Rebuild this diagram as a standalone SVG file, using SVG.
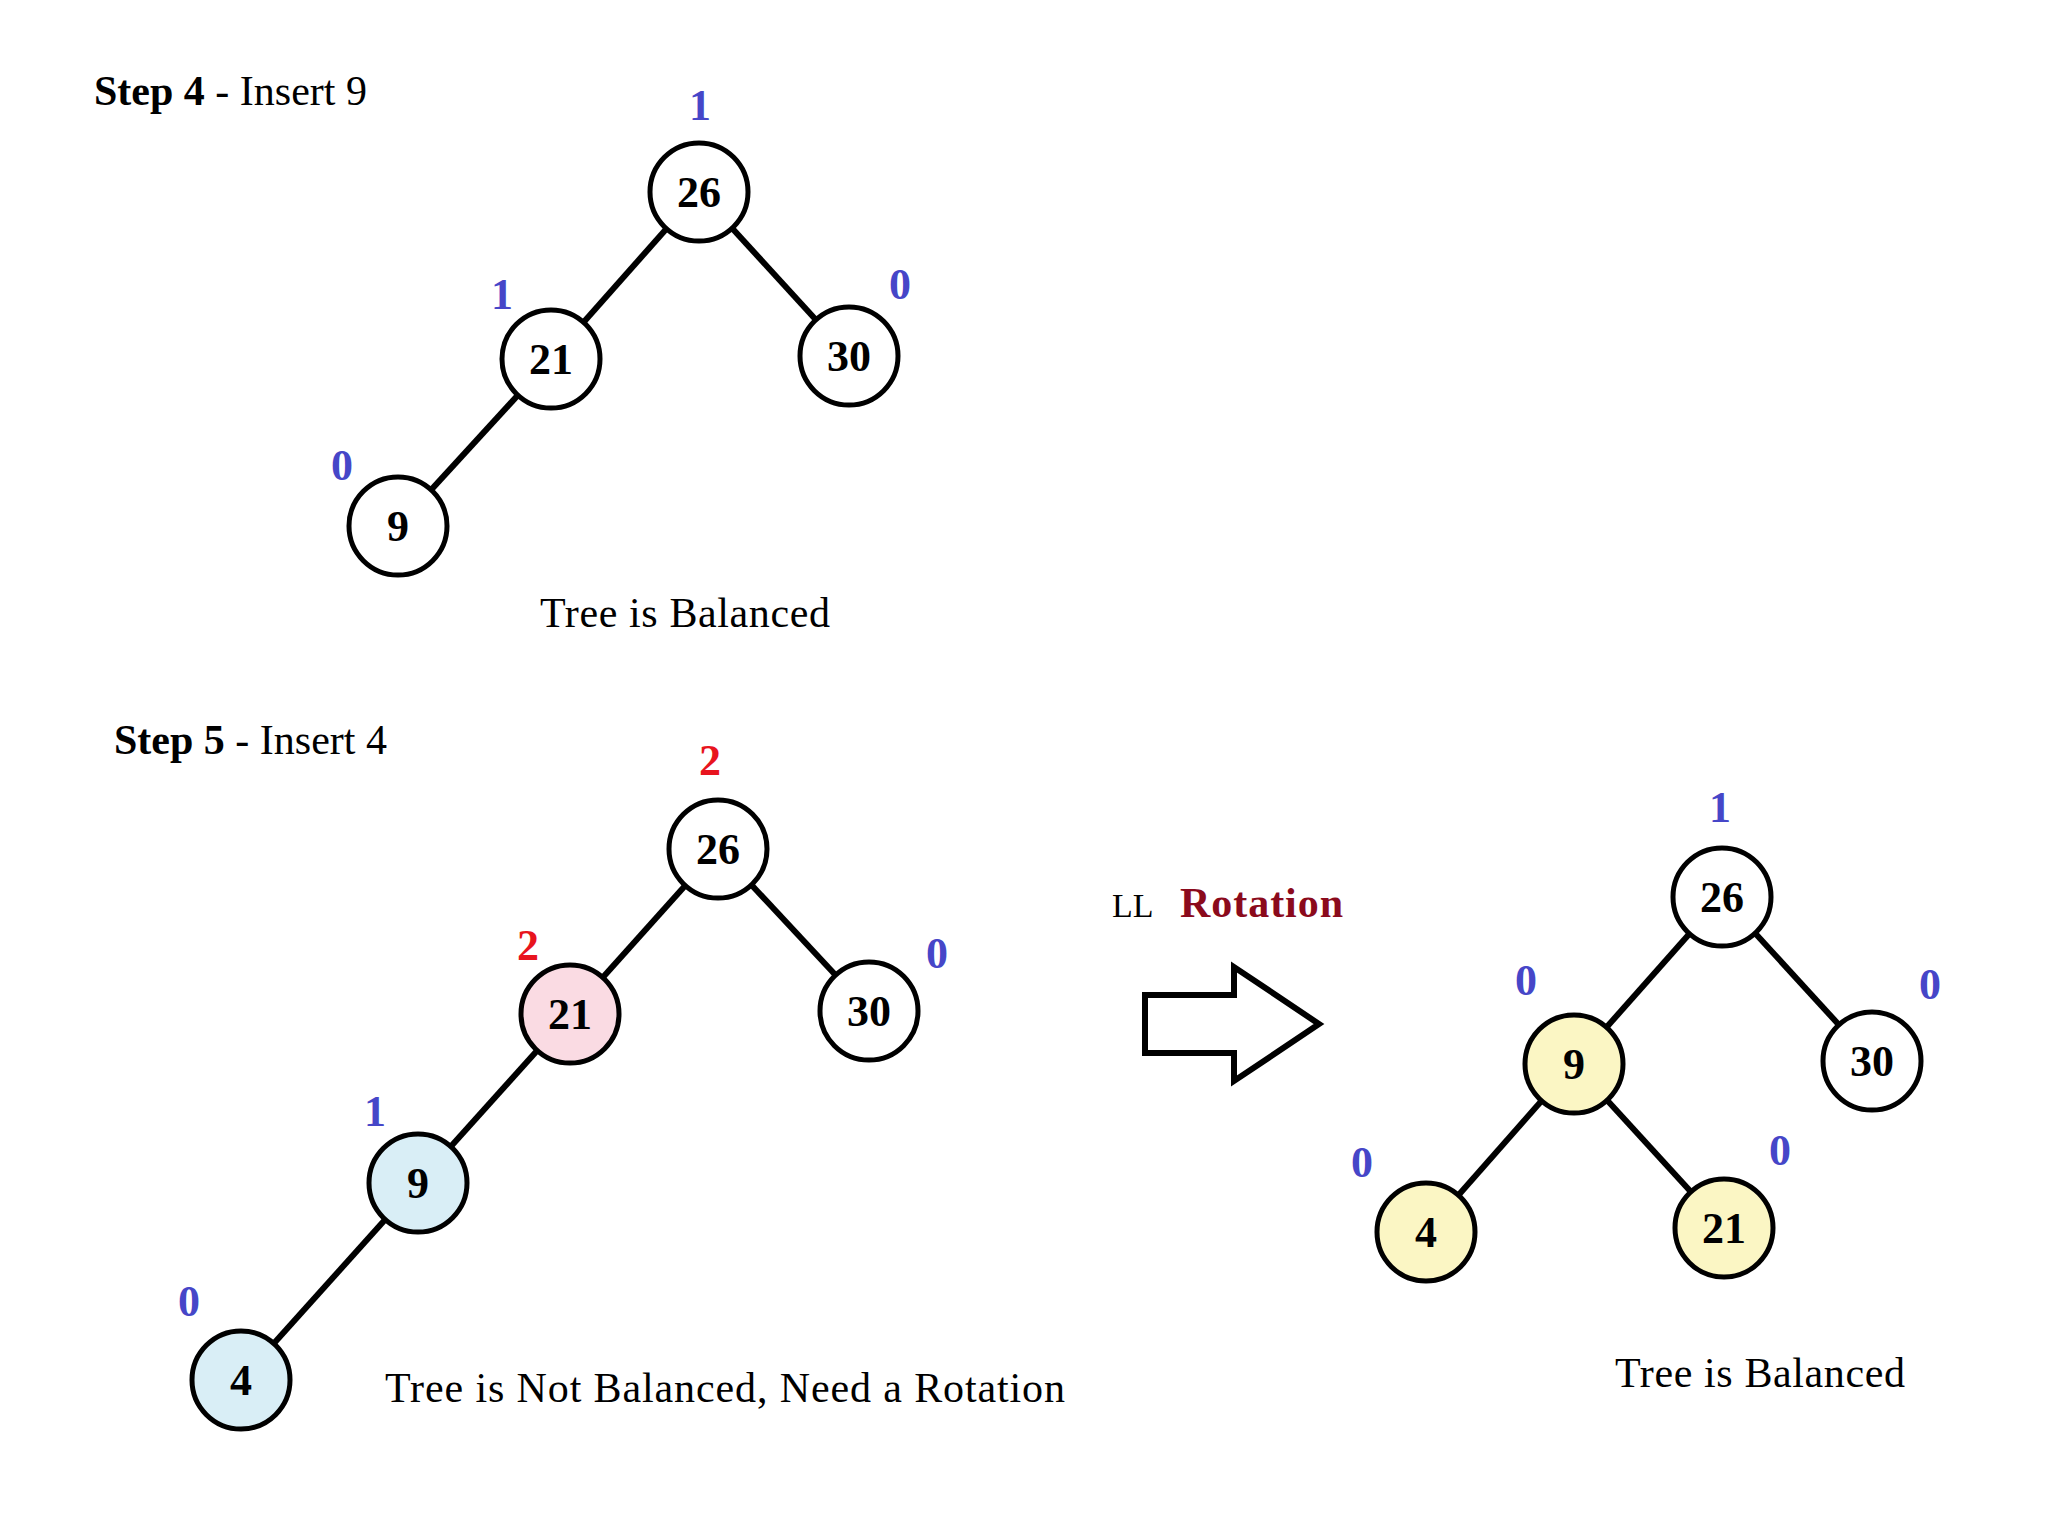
<svg xmlns="http://www.w3.org/2000/svg" width="2048" height="1536" viewBox="0 0 2048 1536">
<style>
text{font-family:"Liberation Serif","Times New Roman",serif;}
.node circle{stroke:#000;stroke-width:5;}
.node text{font-size:44px;font-weight:bold;text-anchor:middle;fill:#000;}
.w{fill:#fff;}
.pk{fill:#fadbe3;}
.bl{fill:#d9eef6;}
.yl{fill:#fbf6c4;}
.bf{font-size:44px;font-weight:bold;fill:#4646c8;text-anchor:middle;}
.rf{font-size:44px;font-weight:bold;fill:#e8141e;text-anchor:middle;}
.cap{font-size:42px;fill:#000;}
.edges line{stroke:#000;stroke-width:6;}
</style>
<rect width="2048" height="1536" fill="#fff"/>

<text class="cap" x="94" y="105"><tspan font-weight="bold">Step 4</tspan> - Insert 9</text>
<text class="cap" x="114" y="754"><tspan font-weight="bold">Step 5</tspan> - Insert 4</text>
<text class="cap" x="540" y="627" textLength="290">Tree is Balanced</text>
<text class="cap" x="385" y="1402" textLength="680">Tree is Not Balanced, Need a Rotation</text>
<text class="cap" x="1615" y="1387" textLength="290">Tree is Balanced</text>
<text x="1112" y="917" font-size="34" fill="#000">LL</text>
<text x="1180" y="917" font-size="42" font-weight="bold" fill="#8b0a1c" textLength="163">Rotation</text>
<polygon points="1145,995 1234,995 1234,967 1319,1024 1234,1081 1234,1053 1145,1053" fill="#fff" stroke="#000" stroke-width="6"/>

<g class="edges">
<line x1="699" y1="192" x2="551" y2="359"/>
<line x1="699" y1="192" x2="849" y2="356"/>
<line x1="551" y1="359" x2="398" y2="526"/>
<line x1="718" y1="849" x2="570" y2="1014"/>
<line x1="718" y1="849" x2="869" y2="1011"/>
<line x1="570" y1="1014" x2="418" y2="1183"/>
<line x1="418" y1="1183" x2="241" y2="1380"/>
<line x1="1722" y1="897" x2="1574" y2="1064"/>
<line x1="1722" y1="897" x2="1872" y2="1061"/>
<line x1="1574" y1="1064" x2="1426" y2="1232"/>
<line x1="1574" y1="1064" x2="1724" y2="1228"/>
</g>

<g id="s4-26" class="node"><circle class="w" cx="699" cy="192" r="49"/><text x="699" y="207">26</text></g>
<g id="s4-21" class="node"><circle class="w" cx="551" cy="359" r="49"/><text x="551" y="374">21</text></g>
<g id="s4-30" class="node"><circle class="w" cx="849" cy="356" r="49"/><text x="849" y="371">30</text></g>
<g id="s4-9" class="node"><circle class="w" cx="398" cy="526" r="49"/><text x="398" y="541">9</text></g>

<g id="s5-26" class="node"><circle class="w" cx="718" cy="849" r="49"/><text x="718" y="864">26</text></g>
<g id="s5-21" class="node"><circle class="pk" cx="570" cy="1014" r="49"/><text x="570" y="1029">21</text></g>
<g id="s5-30" class="node"><circle class="w" cx="869" cy="1011" r="49"/><text x="869" y="1026">30</text></g>
<g id="s5-9" class="node"><circle class="bl" cx="418" cy="1183" r="49"/><text x="418" y="1198">9</text></g>
<g id="s5-4" class="node"><circle class="bl" cx="241" cy="1380" r="49"/><text x="241" y="1395">4</text></g>

<g id="r-26" class="node"><circle class="w" cx="1722" cy="897" r="49"/><text x="1722" y="912">26</text></g>
<g id="r-9" class="node"><circle class="yl" cx="1574" cy="1064" r="49"/><text x="1574" y="1079">9</text></g>
<g id="r-30" class="node"><circle class="w" cx="1872" cy="1061" r="49"/><text x="1872" y="1076">30</text></g>
<g id="r-4" class="node"><circle class="yl" cx="1426" cy="1232" r="49"/><text x="1426" y="1247">4</text></g>
<g id="r-21" class="node"><circle class="yl" cx="1724" cy="1228" r="49"/><text x="1724" y="1243">21</text></g>

<g id="balance">
<text class="bf" x="700" y="120">1</text>
<text class="bf" x="502" y="309">1</text>
<text class="bf" x="900" y="299">0</text>
<text class="bf" x="342" y="480">0</text>
<text class="rf" x="710" y="775">2</text>
<text class="rf" x="528" y="960">2</text>
<text class="bf" x="937" y="968">0</text>
<text class="bf" x="375" y="1126">1</text>
<text class="bf" x="189" y="1316">0</text>
<text class="bf" x="1720" y="822">1</text>
<text class="bf" x="1526" y="995">0</text>
<text class="bf" x="1930" y="999">0</text>
<text class="bf" x="1362" y="1177">0</text>
<text class="bf" x="1780" y="1165">0</text>
</g>
</svg>
